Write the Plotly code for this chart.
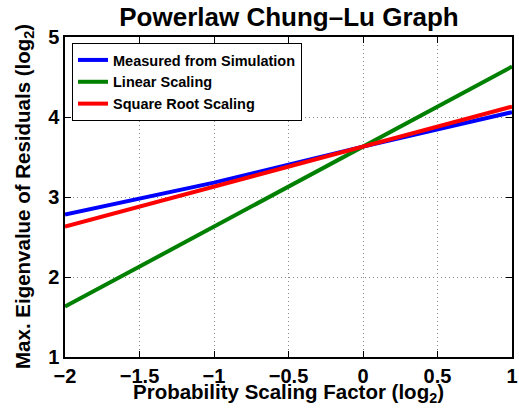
import plotly.graph_objects as go

x_meas = [-2, -1, 0, 1]
y_meas = [2.78, 3.18, 3.63, 4.06]
x_lin = [-2, 1]
y_lin = [1.63, 4.63]
x_sqrt = [-2, 1]
y_sqrt = [2.63, 4.13]

x_ticks = [-2, -1.5, -1, -0.5, 0, 0.5, 1]
x_ticktext = ["−2", "−1.5", "−1", "−0.5", "0", "0.5", "1"]
y_ticks = [1, 2, 3, 4, 5]

FONT = "Liberation Sans, Arial, sans-serif"

fig = go.Figure()
fig.add_trace(go.Scatter(x=x_meas, y=y_meas, mode="lines", name="Measured from Simulation",
                         line=dict(color="#0000ff", width=4)))
fig.add_trace(go.Scatter(x=x_lin, y=y_lin, mode="lines", name="Linear Scaling",
                         line=dict(color="#008000", width=4)))
fig.add_trace(go.Scatter(x=x_sqrt, y=y_sqrt, mode="lines", name="Square Root Scaling",
                         line=dict(color="#ff0000", width=4)))

axis_common = dict(
    showline=True, linecolor="black", linewidth=1.5, mirror="ticks",
    ticks="inside", ticklen=6, tickcolor="black", tickwidth=1,
    showgrid=True, gridcolor="#888888", griddash="1px,3px", gridwidth=1,
    zeroline=False, automargin=False,
    tickfont=dict(family=FONT, size=20, color="black", weight="bold"),
)

fig.update_layout(
    width=519, height=415,
    margin=dict(l=65, r=7, t=37, b=58),
    paper_bgcolor="white", plot_bgcolor="white",
    title=dict(text="<b>Powerlaw Chung–Lu Graph</b>", x=289 / 519, xanchor="center",
               yref="container", y=1 - 16.5 / 415, yanchor="middle",
               font=dict(family=FONT, size=26, color="black")),
    xaxis=dict(range=[-2, 1], tickvals=x_ticks, ticktext=x_ticktext, ticklabelstandoff=0,
               **axis_common),
    yaxis=dict(range=[1, 5], tickvals=y_ticks, ticklabelstandoff=0,
               **axis_common),
    legend=dict(x=7 / 447, y=1 - 6 / 320, xanchor="left", yanchor="top",
                bgcolor="white", bordercolor="black", borderwidth=1,
                font=dict(family=FONT, size=14.5, color="black", weight="bold"),
                itemwidth=30, tracegroupgap=0),
    showlegend=True,
    annotations=[
        dict(text="<b>Probability Scaling Factor (log<sub>2</sub>)</b>",
             xref="paper", yref="paper", x=0.5, y=-(393 - 357) / 320,
             xanchor="center", yanchor="middle", showarrow=False,
             font=dict(family=FONT, size=20.5, color="black")),
        dict(text="<b>Max. Eigenvalue of Residuals (log<sub>2</sub>)</b>",
             xref="paper", yref="paper", x=-(65 - 24) / 447, y=0.5, textangle=-90,
             xanchor="center", yanchor="middle", showarrow=False,
             font=dict(family=FONT, size=20.5, color="black")),
    ],
)

fig.write_html("out.html", config={"displayModeBar": False},
               post_script="document.body.style.margin='0';")
